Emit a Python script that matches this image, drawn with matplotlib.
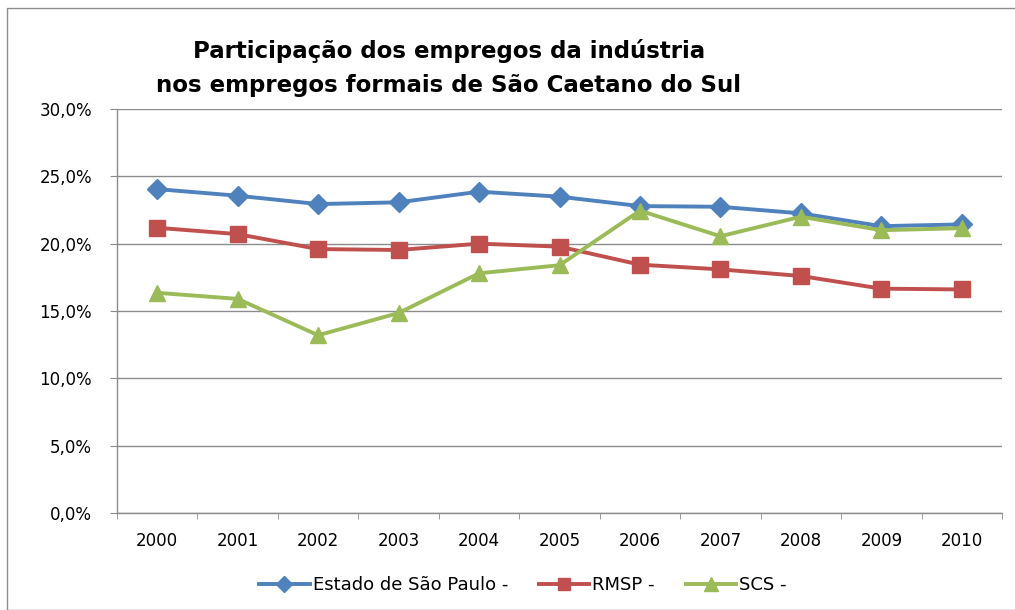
import matplotlib
matplotlib.use("Agg")
import matplotlib.pyplot as plt
from matplotlib.ticker import FuncFormatter, FixedLocator
from matplotlib.patches import Rectangle

years = ["2000", "2001", "2002", "2003", "2004", "2005", "2006", "2007", "2008", "2009", "2010"]
estado_sp = [24.05, 23.56, 22.94, 23.07, 23.86, 23.49, 22.79, 22.74, 22.25, 21.30, 21.43]
rmsp = [21.18, 20.71, 19.60, 19.53, 20.00, 19.78, 18.44, 18.09, 17.60, 16.66, 16.60]
scs = [16.35, 15.90, 13.20, 14.85, 17.80, 18.40, 22.45, 20.55, 22.00, 21.00, 21.15]
series_names = ["Estado de São Paulo -", "RMSP -", "SCS -"]
title = "Participação dos empregos da indústria\nnos empregos formais de São Caetano do Sul"

plt.rcParams['font.family'] = ['DejaVu Sans']

fig = plt.figure(figsize=(10.15, 6.1), dpi=100)
fig.patches.append(Rectangle((7/1015, 0), 1.2, 1 - 8/610, transform=fig.transFigure,
                             fill=False, edgecolor='#8c8c8c', linewidth=1.0))
ax = fig.add_axes([117/1015, 97/610, 885/1015, 404/610])

x = list(range(len(years)))
ax.plot(x, estado_sp, color='#4F81BD', lw=2.8, marker='D', ms=10, label=series_names[0], zorder=3)
ax.plot(x, rmsp, color='#C0504D', lw=2.8, marker='s', ms=11, label=series_names[1], zorder=3)
ax.plot(x, scs, color='#9BBB59', lw=2.8, marker='^', ms=12, label=series_names[2], zorder=3)

ax.set_xlim(-0.5, len(years) - 0.5)
ax.set_ylim(0, 30)
ax.set_yticks([0, 5, 10, 15, 20, 25, 30])
ax.yaxis.set_major_formatter(FuncFormatter(lambda v, p: f"{v:.1f}%".replace('.', ',')))
ax.set_xticks(x)
ax.set_xticklabels(years)
ax.xaxis.set_minor_locator(FixedLocator([i - 0.5 for i in range(len(years) + 1)]))
ax.tick_params(axis='x', which='major', length=0, pad=14, labelsize=12)
ax.tick_params(axis='x', which='minor', length=4, color='#8c8c8c', direction='out')
ax.tick_params(axis='y', length=5, color='#8c8c8c', pad=13, labelsize=12)
ax.grid(axis='y', color='#8c8c8c', linewidth=1.0)
ax.set_axisbelow(True)
for s in ['top', 'right']:
    ax.spines[s].set_visible(False)
for s in ['left', 'bottom']:
    ax.spines[s].set_color('#8c8c8c')
    ax.spines[s].set_linewidth(1.0)

fig.text(449/1015, 1 - 68/610, title, ha='center', va='center', fontsize=16.5,
         fontweight='bold', linespacing=1.6)

leg = fig.legend(loc='center', bbox_to_anchor=(523/1015, 1 - 585/610), ncol=3, frameon=False,
                 fontsize=13, handlelength=2.8, handletextpad=0.17, columnspacing=1.7,
                 markerscale=0.8)

fig.savefig("out.png", dpi=100)
